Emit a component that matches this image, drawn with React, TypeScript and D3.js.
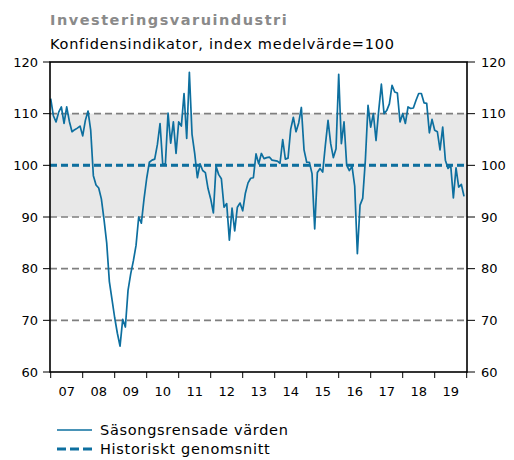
import React from 'react';
import * as d3 from 'd3';

// tick labels
const yearLabels = ['07', '08', '09', '10', '11', '12', '13', '14', '15', '16', '17', '18', '19'];
const yTicks = [60, 70, 80, 90, 100, 110, 120];
const gridValues = [70, 80, 90, 100, 110];
const band = [90, 110];
const historicalMean = 100;

// monthly, seasonally adjusted values per year
const s2007 = [112.9, 109.6, 108.4, 110.3, 111.3, 108.1, 111.3, 108.5, 106.5, 106.9, 107.2, 107.6];
const s2008 = [105.7, 108.7, 110.5, 106.8, 98.0, 96.2, 95.6, 93.5, 89.5, 85.0, 77.5, 74.0];
const s2009 = [70.5, 67.5, 65.0, 70.2, 68.7, 75.8, 79.0, 81.5, 84.5, 90.0, 88.8, 93.5];
const s2010 = [97.5, 100.6, 101.0, 101.2, 104.0, 108.1, 100.3, 100.2, 110.1, 104.3, 108.4, 102.3];
const s2011 = [108.4, 107.6, 113.9, 105.2, 118.0, 106.0, 102.3, 97.6, 100.3, 99.0, 98.6, 95.5];
const s2012 = [93.5, 90.8, 99.8, 98.2, 97.4, 91.9, 92.6, 85.5, 91.7, 87.3, 91.9, 92.7];
const s2013 = [91.2, 94.6, 96.6, 97.5, 97.6, 102.2, 100.3, 102.3, 101.3, 101.5, 101.6, 101.0];
const s2014 = [100.9, 100.8, 100.4, 105.0, 101.2, 101.4, 107.0, 109.3, 106.5, 108.2, 111.2, 103.0];
const s2015 = [100.6, 100.6, 98.4, 87.7, 98.6, 99.4, 98.7, 103.9, 108.7, 104.2, 101.5, 103.2];
const s2016 = [117.6, 104.2, 108.4, 100.0, 99.0, 99.8, 96.0, 82.9, 92.3, 93.6, 101.0, 111.6];
const s2017 = [107.4, 110.0, 104.8, 110.6, 115.7, 110.0, 110.6, 111.9, 115.5, 114.2, 114.0, 108.4];
const s2018 = [110.0, 108.1, 111.3, 111.0, 111.1, 112.6, 113.9, 113.9, 112.1, 112.0, 106.3, 108.9];
const s2019 = [106.8, 106.5, 103.0, 107.4, 101.0, 99.4, 100.0, 93.7, 99.5, 95.8, 96.3, 94.0];

const seasonal = [
  ...s2007, ...s2008, ...s2009, ...s2010, ...s2011, ...s2012, ...s2013,
  ...s2014, ...s2015, ...s2016, ...s2017, ...s2018, ...s2019,
];

const FONT = '"DejaVu Sans", Verdana, sans-serif';
const BLUE = '#0d6f9f';

export default function App() {
  const width = 514;
  const height = 460;
  const left = 50;
  const right = 467;
  const top = 62;
  const bottom = 372;

  const x = d3.scaleLinear().domain([2007, 2020]).range([left + 0.7, right - 0.3]);
  const y = d3.scaleLinear().domain([60, 120]).range([bottom, top]);

  const line = d3
    .line<number>()
    .x((_, i) => x(2007 + i / 12))
    .y(d => y(d));

  const yearTicks = d3.range(2007, 2021);

  return (
    <svg
      width={width}
      height={height}
      style={{ position: 'absolute', left: 0, top: 0, background: '#fff' }}
      fontFamily={FONT}
    >
      <text x={50} y={25} fontSize={14.5} fontWeight="bold" fill="#8a8a8a" letterSpacing={1.5}>
        Investeringsvaruindustri
      </text>
      <text x={50} y={49} fontSize={14.5} fill="#000" letterSpacing={0.75}>
        Konfidensindikator, index medelvärde=100
      </text>

      {/* shaded normal range */}
      <rect
        x={left}
        y={y(band[1])}
        width={right - left}
        height={y(band[0]) - y(band[1])}
        fill="#e8e8e8"
      />

      {gridValues.map(v => (
        <line
          key={v}
          x1={left}
          x2={right}
          y1={y(v)}
          y2={y(v)}
          stroke="#7f7f7f"
          strokeWidth={1.6}
          strokeDasharray="7,4"
        />
      ))}

      <line
        x1={left}
        x2={right}
        y1={y(historicalMean)}
        y2={y(historicalMean)}
        stroke={BLUE}
        strokeWidth={3}
        strokeDasharray="7,4"
      />

      <path d={line(seasonal) ?? ''} fill="none" stroke={BLUE} strokeWidth={1.7} strokeLinejoin="round" />

      {/* frame */}
      <rect x={left} y={top} width={right - left} height={bottom - top} fill="none" stroke="#000" strokeWidth={1.6} />

      {yTicks.map(v => (
        <g key={v}>
          <line x1={left - 7} x2={left} y1={y(v)} y2={y(v)} stroke="#000" strokeWidth={1} />
          <line x1={right} x2={right + 8} y1={y(v)} y2={y(v)} stroke="#000" strokeWidth={1} />
          <text x={left - 12} y={y(v)} dy="0.35em" textAnchor="end" fontSize={13} fill="#000">
            {v}
          </text>
          <text x={right + 14} y={y(v)} dy="0.35em" textAnchor="start" fontSize={13} fill="#000">
            {v}
          </text>
        </g>
      ))}

      {yearTicks.map(t => (
        <line key={t} x1={x(t)} x2={x(t)} y1={bottom} y2={bottom + 6} stroke="#000" strokeWidth={1} />
      ))}
      {yearLabels.map((lab, i) => (
        <text key={lab} x={x(2007 + i + 0.5)} y={396} textAnchor="middle" fontSize={13} fill="#000">
          {lab}
        </text>
      ))}

      {/* legend */}
      <line x1={57} x2={92} y1={430} y2={430} stroke={BLUE} strokeWidth={1.7} />
      <text x={100} y={435} fontSize={14.5} fill="#000" letterSpacing={0.7}>
        Säsongsrensade värden
      </text>
      <line x1={57} x2={92} y1={449} y2={449} stroke={BLUE} strokeWidth={3} strokeDasharray="9,4" />
      <text x={100} y={454} fontSize={14.5} fill="#000" letterSpacing={0.7}>
        Historiskt genomsnitt
      </text>
    </svg>
  );
}
